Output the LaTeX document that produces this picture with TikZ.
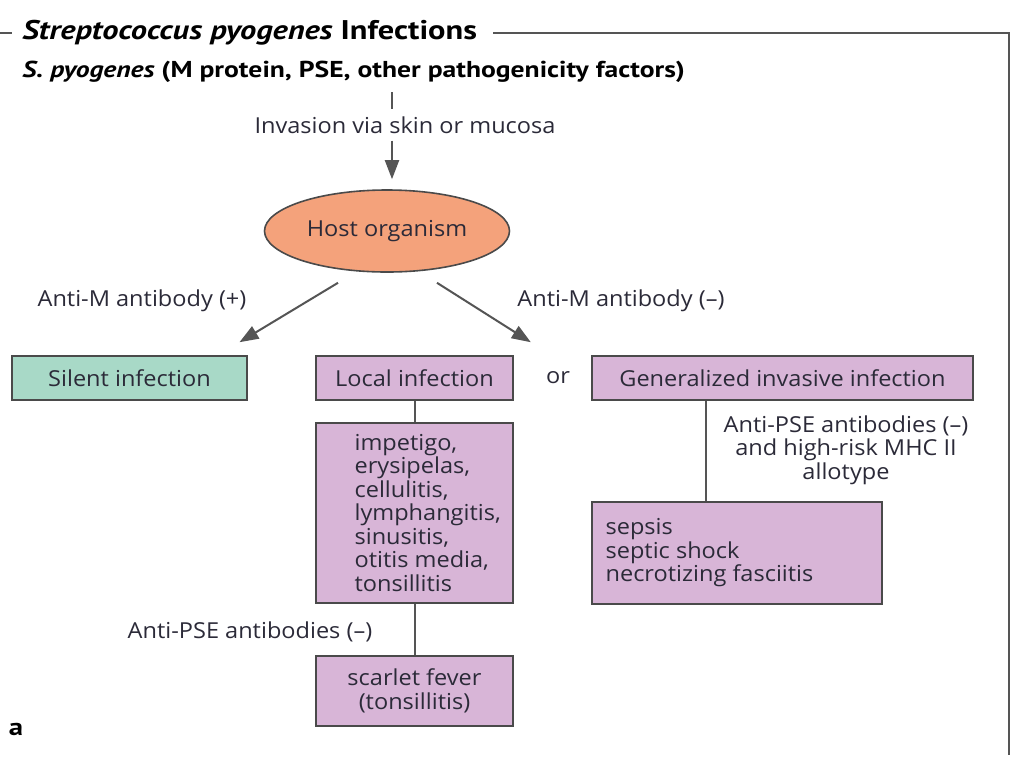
\documentclass[tikz,border=0pt]{standalone}
\usepackage{fontspec}
\setmainfont[FakeStretch=1.07]{Open Sans}
\newfontfamily\headfont[FakeStretch=1.2]{PT Sans}
\usetikzlibrary{positioning,arrows.meta,shapes.geometric,calc}
\definecolor{hostorange}{HTML}{F4A27B}
\definecolor{silentgreen}{HTML}{A8D9C7}
\definecolor{lilac}{HTML}{D8B5D7}
\definecolor{boxline}{HTML}{4A4A4A}
\definecolor{ink}{HTML}{2B2A38}
\definecolor{frameline}{HTML}{555555}
\tikzset{
  every node/.style={font=\fontsize{11}{11.75}\selectfont, text=ink},
  box/.style={draw=boxline, line width=0.8pt, fill=lilac, inner sep=0pt,
    minimum width=98.5pt, minimum height=22pt},
  host/.style={ellipse, draw=boxline, line width=0.8pt, fill=hostorange,
    minimum width=122.5pt, minimum height=41pt, inner sep=0pt},
  link/.style={draw=frameline, line width=1pt},
  arrow/.style={link, -{Triangle[length=9.5pt,width=7pt]}},
  frame/.style={draw=frameline, line width=1pt},
  head/.style={font=\headfont\bfseries\fontsize{13.5}{15}\selectfont, text=black, anchor=west, inner sep=0pt},
  subhead/.style={font=\headfont\bfseries\fontsize{11.5}{12}\selectfont, text=black, anchor=west, inner sep=0pt},
  cond/.style={align=center}
}
\begin{document}
\begin{tikzpicture}[x=0.5pt,y=-0.5pt]
  \useasboundingbox (0,0) rectangle (1024,767);
  % heading and frame
  \node[head] (title) at (22,33) {\itshape Streptococcus pyogenes\upshape{} Infections};
  \coordinate (corner) at (1009,33);
  \coordinate (frame end) at (1009,755);
  \draw[frame] (0,33) -- (12,33);
  \draw[frame] ([xshift=8pt]title.east) -- (corner) -- (frame end);
  \node[subhead] (agent) at (22,72) {\itshape S. pyogenes\upshape{} (M protein, PSE, other pathogenicity factors)};

  % invasion
  \coordinate (inv top) at (392,92);
  \node (invasion) at (405,125) {Invasion via skin or mucosa};
  \node[host] (host) at (387,231) {Host organism};
  \draw[link] (inv top) -- (invasion.north -| inv top);
  \draw[arrow, shorten >=5pt] (invasion.south -| inv top) -- (host.north -| inv top);

  % first split
  \node[box, fill=silentgreen, minimum width=117.5pt] (silent) at (129.5,378) {Silent infection};
  \node[box] (local) at (414.5,378) {Local infection};
  \node (or) at (558,378) {or};
  \node[box, minimum width=190.5pt] (general) at (782.5,378) {Generalized invasive infection};
  \draw[arrow] ([xshift=-24.5pt,yshift=-5pt]host.south) -- ([xshift=55pt,yshift=6.5pt]silent.north);
  \draw[arrow] ([xshift=25pt,yshift=-5pt]host.south) -- ([xshift=8.5pt,yshift=6.5pt]local.north east);
  \node (m plus) at (142,301) {Anti-M antibody (+)};
  \node (m minus) at (621,301) {Anti-M antibody (--)};

  % local branch
  \node[box, minimum height=90pt] (local list) at (414.5,513) {};
  \node[align=left, inner sep=0pt, right=19.5pt of local list.west] (local text)
    {impetigo,\\erysipelas,\\cellulitis,\\lymphangitis,\\sinusitis,\\otitis media,\\tonsillitis};
  \node[box, minimum height=35pt, cond] (scarlet) at (414.5,691) {scarlet fever\\(tonsillitis)};
  \draw[link] (local) -- (local list);
  \draw[link] (local list) -- (scarlet);
  \node (pse left) at (250,632) {Anti-PSE antibodies (--)};

  % invasive branch
  \node[box, minimum width=145pt, minimum height=51pt] (sepsis) at (737,553) {};
  \node[align=left, inner sep=0pt, right=7pt of sepsis.west] (sepsis text)
    {sepsis\\septic shock\\necrotizing fasciitis};
  \draw[link] ([xshift=-38.25pt]general.south) -- ([xshift=-38.25pt]general.south |- sepsis.north);
  \node[cond] (pse right) at (846,450) {Anti-PSE antibodies (--)\\and high-risk MHC II\\allotype};

  \node[font=\headfont\bfseries\fontsize{12}{12}\selectfont, text=black] (panel) at (16,729) {a};
\end{tikzpicture}
\end{document}
